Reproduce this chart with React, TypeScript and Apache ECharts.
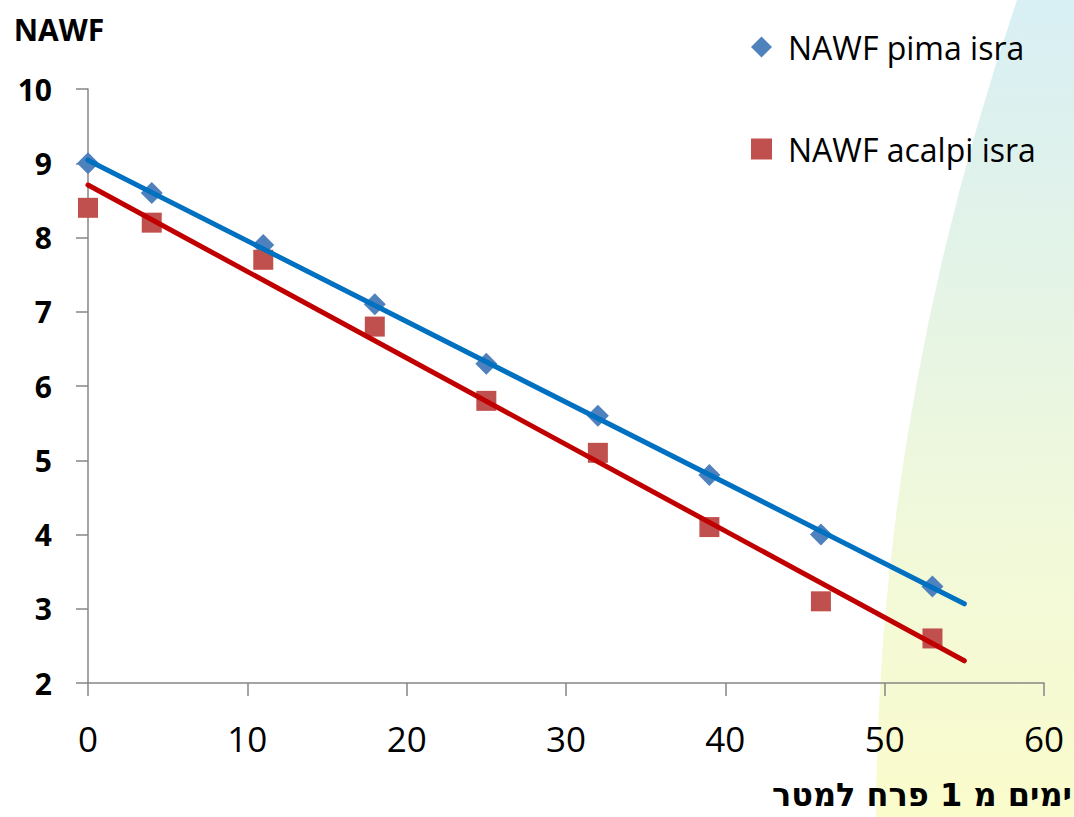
import React, { useEffect, useRef } from "react";
import * as echarts from "echarts";

// ---- data ----
const days = [0, 4, 11, 18, 25, 32, 39, 46, 53];
const nawfPima = [9.0, 8.6, 7.9, 7.1, 6.3, 5.6, 4.8, 4.0, 3.3];
const nawfAcalpi = [8.4, 8.2, 7.7, 6.8, 5.8, 5.1, 4.1, 3.1, 2.6];
const trendEnd = 55;
const seriesNames = ["NAWF pima isra", "NAWF acalpi isra"];
const yAxisName = "NAWF";
const xAxisName = "ימים מ 1 פרח למטר";

// linear least-squares trendline (like Excel's linear trendline)
function trend(xs: number[], ys: number[], x0: number, x1: number) {
  const n = xs.length;
  const mx = xs.reduce((a, b) => a + b, 0) / n;
  const my = ys.reduce((a, b) => a + b, 0) / n;
  let sxy = 0;
  let sxx = 0;
  for (let i = 0; i < n; i++) {
    sxy += (xs[i] - mx) * (ys[i] - my);
    sxx += (xs[i] - mx) * (xs[i] - mx);
  }
  const b = sxy / sxx;
  const a = my - b * mx;
  return [
    [x0, a + b * x0],
    [x1, a + b * x1],
  ];
}

echarts.graphic.registerShape(
  "bgCurve",
  echarts.graphic.extendPath("M1017 0 Q877.6 408.5 876 817 L1074 817 L1074 0 Z", {})
);

export default function App() {
  const ref = useRef<HTMLDivElement>(null);
  useEffect(() => {
    if (!ref.current) return;
    const chart = echarts.init(ref.current, undefined, { renderer: "svg" });
    const font = "'Open Sans', 'Noto Sans', 'DejaVu Sans', sans-serif";
    const hebFont = "'DejaVu Sans', 'Liberation Sans', sans-serif";
    const axisColor = "#868686";
    chart.setOption({
      animation: false,
      backgroundColor: "#ffffff",
      textStyle: { fontFamily: font },
      graphic: [
        {
          type: "bgCurve",
          x: 0,
          y: 0,
          z: -10,
          silent: true,
          style: {
            fill: new echarts.graphic.LinearGradient(0, 0, 0, 1, [
              { offset: 0, color: "#d8eff4" },
              { offset: 0.25, color: "#e0f2ea" },
              { offset: 0.6, color: "#eff8dc" },
              { offset: 1, color: "#fbfccc" },
            ]),
          },
        },
      ],
      grid: {
        left: 88,
        right: 30,
        top: 89,
        bottom: 134,
        containLabel: false,
        outerBoundsMode: "none",
      },
      legend: {
        orient: "vertical",
        left: 746,
        top: 26,
        itemWidth: 21,
        itemHeight: 21,
        itemGap: 70,
        data: [
          { name: seriesNames[0], icon: "diamond" },
          { name: seriesNames[1], icon: "rect" },
        ],
        textStyle: {
          fontFamily: font,
          fontSize: 32,
          lineHeight: 32,
          color: "#000",
          padding: [0, 0, 0, 11],
        },
      },
      xAxis: {
        type: "value",
        min: 0,
        max: 60,
        interval: 10,
        name: xAxisName,
        nameLocation: "end",
        nameGap: 28,
        nameMoveOverlap: false,
        nameTextStyle: {
          fontFamily: hebFont,
          fontSize: 32,
          fontWeight: "bold",
          color: "#000",
          align: "right",
          verticalAlign: "top",
          padding: [96, 0, 0, 0],
        },
        axisLine: { show: true, lineStyle: { color: axisColor, width: 1.5 } },
        axisTick: { show: true, inside: false, length: 13, lineStyle: { color: axisColor, width: 1.5 } },
        axisLabel: { fontFamily: font, fontSize: 35, color: "#000", margin: 38 },
        splitLine: { show: false },
      },
      yAxis: {
        type: "value",
        min: 2,
        max: 10,
        interval: 1,
        name: yAxisName,
        nameLocation: "end",
        nameGap: 45,
        nameMoveOverlap: false,
        nameTextStyle: {
          fontFamily: font,
          fontSize: 30,
          fontWeight: "bold",
          color: "#000",
          align: "center",
          padding: [0, 58, 0, 0],
        },
        axisLine: { show: true, lineStyle: { color: axisColor, width: 1.5 } },
        axisTick: { show: true, inside: false, length: 12, lineStyle: { color: axisColor, width: 1.5 } },
        axisLabel: { fontFamily: font, fontSize: 30, fontWeight: "bold", color: "#000", margin: 36 },
        splitLine: { show: false },
      },
      series: [
        {
          name: seriesNames[0],
          type: "scatter",
          symbol: "diamond",
          symbolSize: 22,
          itemStyle: { color: "#4f81bd", opacity: 1 },
          data: days.map((d, i) => [d, nawfPima[i]]),
          z: 2,
        },
        {
          name: seriesNames[1],
          type: "scatter",
          symbol: "rect",
          symbolSize: 20,
          itemStyle: { color: "#c0504d", opacity: 1 },
          data: days.map((d, i) => [d, nawfAcalpi[i]]),
          z: 2,
        },
        {
          name: "trend-pima",
          type: "line",
          showSymbol: false,
          symbol: "none",
          lineStyle: { color: "#0070c0", width: 5, cap: "round" },
          data: trend(days, nawfPima, 0, trendEnd),
          z: 3,
          silent: true,
        },
        {
          name: "trend-acalpi",
          type: "line",
          showSymbol: false,
          symbol: "none",
          lineStyle: { color: "#c00000", width: 5, cap: "round" },
          data: trend(days, nawfAcalpi, 0, trendEnd),
          z: 3,
          silent: true,
        },
      ],
    });
    return () => chart.dispose();
  }, []);
  return (
    <div
      ref={ref}
      style={{ position: "fixed", left: 0, top: 0, width: 1074, height: 817 }}
    />
  );
}
